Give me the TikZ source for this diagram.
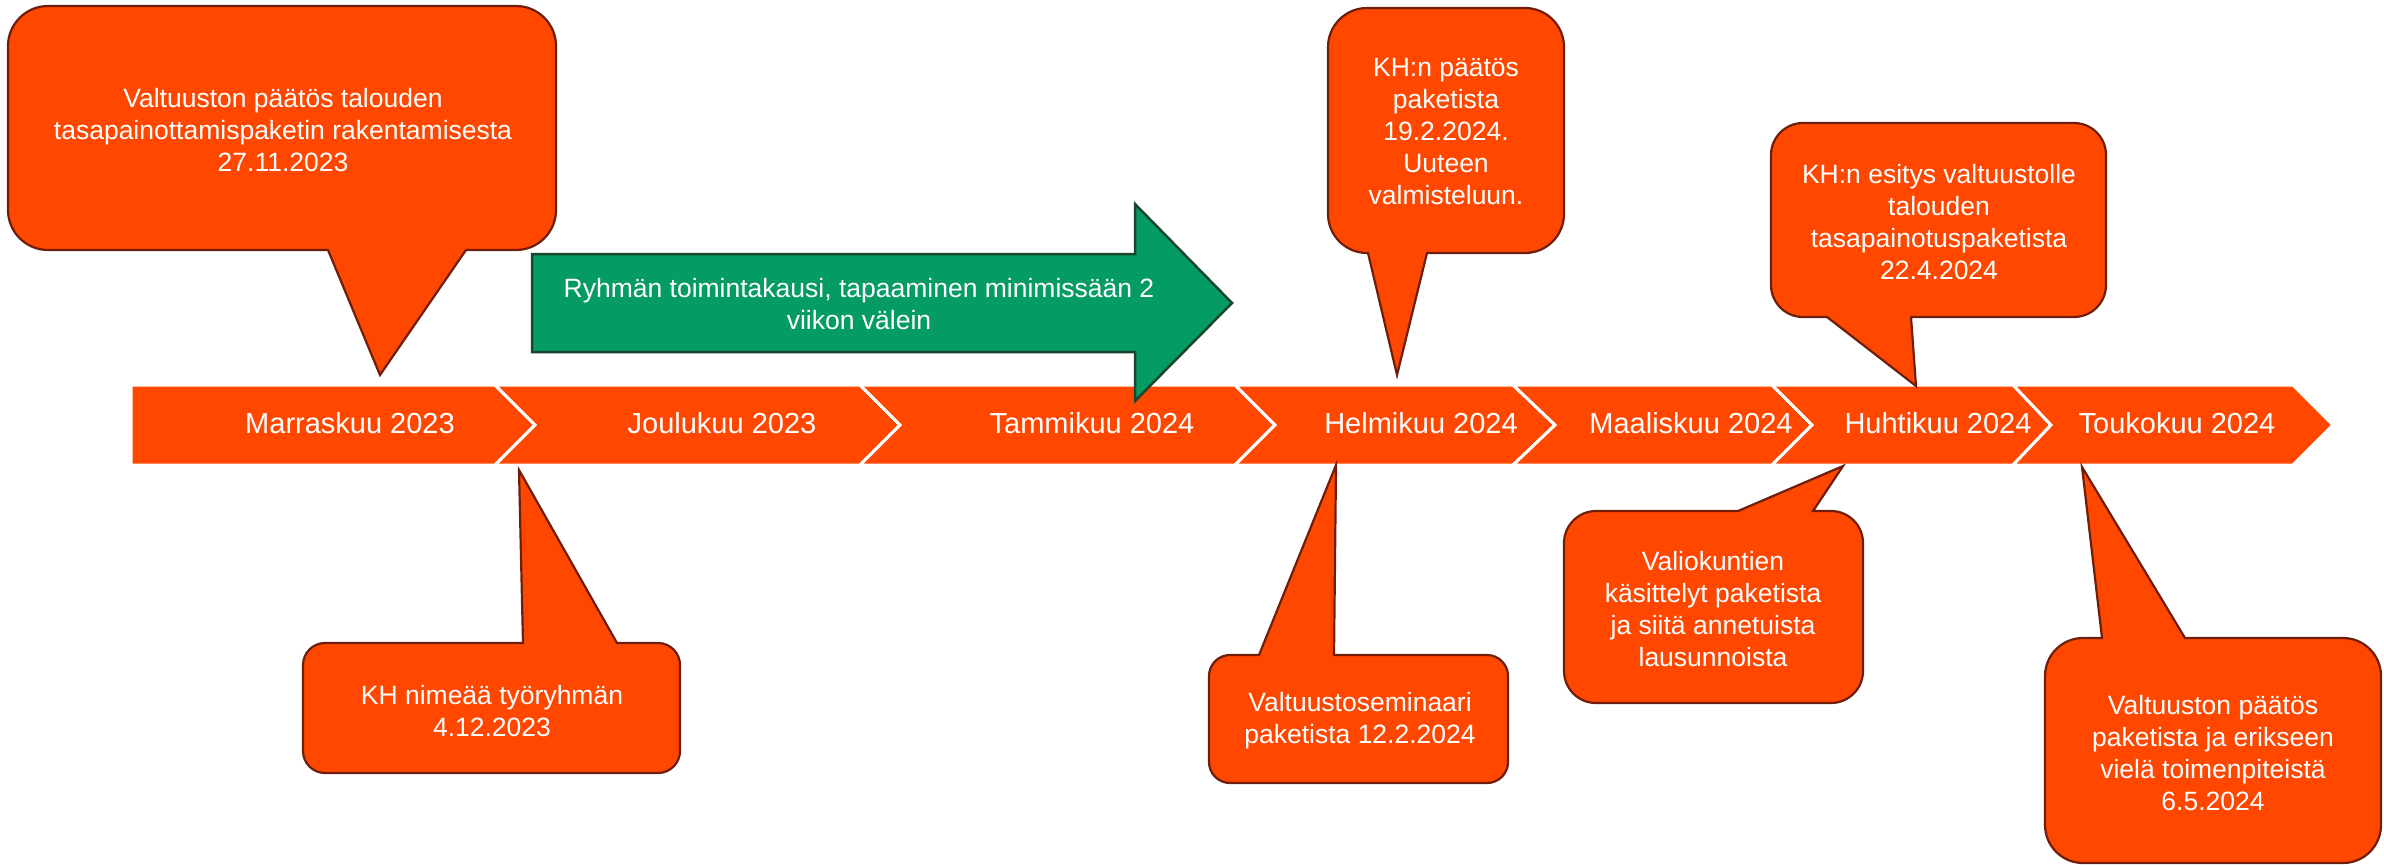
\documentclass[tikz,border=0pt]{standalone}
\usepackage{fontspec}
\setmainfont{Liberation Sans}
\definecolor{tlorange}{RGB}{255,71,0}
\definecolor{tlbrown}{RGB}{110,30,10}
\definecolor{tlgreen}{RGB}{5,155,100}
\definecolor{tldkgreen}{RGB}{25,70,45}
\tikzset{
  seg/.style={fill=tlorange, draw=white, line width=3pt, line join=miter},
  callout/.style={fill=tlorange, draw=tlbrown, line width=2.2pt, line join=miter},
  ctext/.style={text=white, align=center, font=\fontsize{26.5}{32}\selectfont, inner sep=0pt},
  mtext/.style={text=white, font=\fontsize{29}{34}\selectfont, inner sep=0pt, anchor=base},
}
% box x1,y1,x2,y2, radius r, tail base left ax, tail base right bx, tip tx,ty
\newcommand\calloutDown[9]{%
  \path[callout] ({#1+#5},#2) -- ({#3-#5},#2)
    .. controls ({#3-0.448*#5},#2) and (#3,{#2+0.448*#5}) .. (#3,{#2+#5})
    -- (#3,{#4-#5})
    .. controls (#3,{#4-0.448*#5}) and ({#3-0.448*#5},#4) .. ({#3-#5},#4)
    -- (#7,#4) -- (#8,#9) -- (#6,#4)
    -- ({#1+#5},#4)
    .. controls ({#1+0.448*#5},#4) and (#1,{#4-0.448*#5}) .. (#1,{#4-#5})
    -- (#1,{#2+#5})
    .. controls (#1,{#2+0.448*#5}) and ({#1+0.448*#5},#2) .. ({#1+#5},#2) -- cycle;}
\newcommand\calloutUp[9]{%
  \path[callout] ({#1+#5},#2) -- (#6,#2) -- (#8,#9) -- (#7,#2) -- ({#3-#5},#2)
    .. controls ({#3-0.448*#5},#2) and (#3,{#2+0.448*#5}) .. (#3,{#2+#5})
    -- (#3,{#4-#5})
    .. controls (#3,{#4-0.448*#5}) and ({#3-0.448*#5},#4) .. ({#3-#5},#4)
    -- ({#1+#5},#4)
    .. controls ({#1+0.448*#5},#4) and (#1,{#4-0.448*#5}) .. (#1,{#4-#5})
    -- (#1,{#2+#5})
    .. controls (#1,{#2+0.448*#5}) and ({#1+0.448*#5},#2) .. ({#1+#5},#2) -- cycle;}
\begin{document}
\begin{tikzpicture}[x=1pt,y=-1pt]
\useasboundingbox (0,0) rectangle (2384,865);
% timeline chevrons
\path[seg] (131,385) -- (495,385) -- (535,425) -- (495,465) -- (131,465) -- cycle;
\path[seg] (495,385) -- (860,385) -- (900,425) -- (860,465) -- (495,465) -- (535,425) -- cycle;
\path[seg] (860,385) -- (1235,385) -- (1275,425) -- (1235,465) -- (860,465) -- (900,425) -- cycle;
\path[seg] (1235,385) -- (1513,385) -- (1555,425) -- (1513,465) -- (1235,465) -- (1275,425) -- cycle;
\path[seg] (1513,385) -- (1772,385) -- (1812,425) -- (1772,465) -- (1513,465) -- (1555,425) -- cycle;
\path[seg] (1772,385) -- (2013,385) -- (2051,425) -- (2013,465) -- (1772,465) -- (1812,425) -- cycle;
\path[seg] (2013,385) -- (2293,385) -- (2333,425) -- (2293,465) -- (2013,465) -- (2051,425) -- cycle;
\node[mtext] (m1) at (350,433) {Marraskuu 2023};
\node[mtext] (m2) at (722,433) {Joulukuu 2023};
\node[mtext] (m3) at (1092,433) {Tammikuu 2024};
\node[mtext] (m4) at (1421,433) {Helmikuu 2024};
\node[mtext] (m5) at (1691,433) {Maaliskuu 2024};
\node[mtext] (m6) at (1938,433) {Huhtikuu 2024};
\node[mtext] (m7) at (2177,433) {Toukokuu 2024};
% green arrow
\path[fill=tlgreen, draw=tldkgreen, line width=2.5pt, line join=miter]
  (532,254) -- (1135,254) -- (1135,204) -- (1232,303) -- (1135,401) -- (1135,352) -- (532,352) -- cycle;
\node[ctext] (grp) at (859,304) {Ryhmän toimintakausi, tapaaminen minimissään 2\\viikon välein};
% callouts above
\calloutDown{8}{6}{556}{250}{40}{328}{466}{380}{375}
\node[ctext] (c1) at (283,130) {Valtuuston päätös talouden\\tasapainottamispaketin rakentamisesta\\27.11.2023};
\calloutDown{1328}{8}{1564}{253}{39}{1368}{1427}{1397}{375}
\node[ctext] (c2) at (1446,132) {KH:n päätös\\paketista\\19.2.2024.\\Uuteen\\valmisteluun.};
\calloutDown{1771}{123}{2106}{317}{32}{1827}{1911}{1916}{386}
\node[ctext] (c3) at (1939,222) {KH:n esitys valtuustolle\\talouden\\tasapainotuspaketista\\22.4.2024};
% callouts below
\calloutUp{303}{643}{680}{773}{22}{523}{617}{519}{470}
\node[ctext] (c4) at (492,711) {KH nimeää työryhmän\\4.12.2023};
\calloutUp{1209}{655}{1508}{783}{21}{1259}{1334}{1336}{465}
\node[ctext] (c5) at (1360,721) {Valtuustoseminaari\\paketista 12.2.2024};
\calloutUp{1564}{511}{1863}{703}{32}{1738}{1813}{1843}{466}
\node[ctext] (c6) at (1713,609) {Valiokuntien\\käsittelyt paketista\\ja siitä annetuista\\lausunnoista};
\calloutUp{2045}{638}{2381}{863}{38}{2102}{2185}{2082}{467}
\node[ctext] (c7) at (2213,753) {Valtuuston päätös\\paketista ja erikseen\\vielä toimenpiteistä\\6.5.2024};
\end{tikzpicture}
\end{document}
